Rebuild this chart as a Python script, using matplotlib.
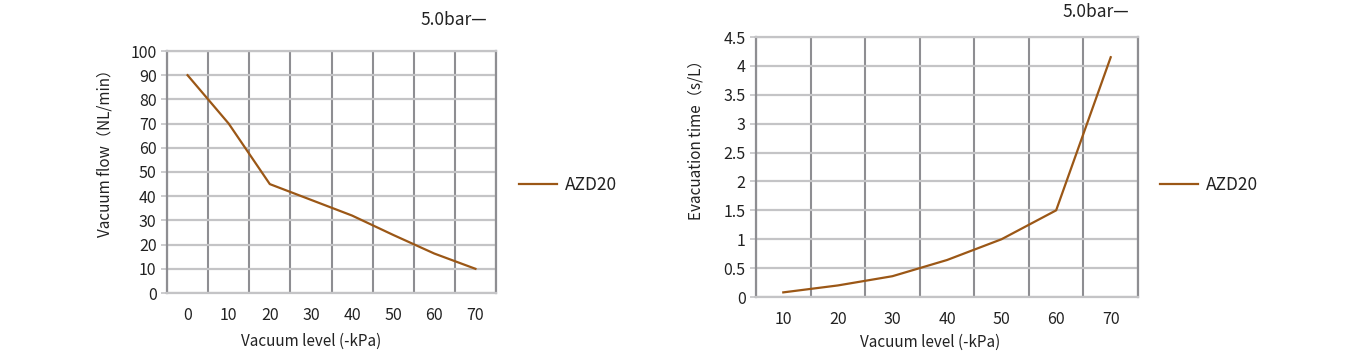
import matplotlib
matplotlib.use('Agg')
import matplotlib.pyplot as plt
from matplotlib.ticker import FixedLocator

plt.rcParams['font.family'] = ['Noto Sans CJK SC', 'DejaVu Sans']

# vacuum flow vs vacuum level
flow_levels = ['0', '10', '20', '30', '40', '50', '60', '70']
flow_values = [90, 70, 45, 38.5, 32, 24, 16.3, 10]

# evacuation time vs vacuum level
evac_levels = ['10', '20', '30', '40', '50', '60', '70']
evac_values = [0.08, 0.2, 0.36, 0.64, 1.0, 1.5, 4.15]

series_name = 'AZD20'
pressure_note = '5.0bar\u2014'

line_color = '#9b5716'
vgrid_color = '#8e8e92'
hgrid_color = '#c4c4c6'
text_color = '#222222'

fig = plt.figure(figsize=(13.53, 3.56), dpi=100)


def setup_axes(ax, labels, values, yticks, yticklabels, ylabel, ylabel_x, ylabel_y):
    n = len(labels)
    x = list(range(n))
    ax.plot(x, values, color=line_color, linewidth=1.6, label=series_name, zorder=3)
    ax.set_xlim(-0.5, n - 0.5)
    ax.set_ylim(yticks[0], yticks[-1])
    ax.set_xticks(x)
    ax.set_xticklabels(labels)
    ax.xaxis.set_minor_locator(FixedLocator([i - 0.5 for i in range(n + 1)]))
    ax.set_yticks(yticks)
    ax.set_yticklabels(yticklabels)
    ax.tick_params(axis='x', which='major', length=0, pad=10, labelsize=11.5, colors=text_color)
    ax.tick_params(axis='x', which='minor', length=0)
    ax.tick_params(axis='y', length=4, width=1.2, color=hgrid_color, pad=3.5,
                   labelsize=11.5, labelcolor=text_color)
    ax.grid(which='minor', axis='x', color=vgrid_color, linewidth=1.5)
    ax.grid(which='major', axis='y', color=hgrid_color, linewidth=1.6)
    for side in ['left', 'bottom', 'top', 'right']:
        ax.spines[side].set_color(hgrid_color)
        ax.spines[side].set_linewidth(1.6)
    ax.spines['left'].set_color(vgrid_color)
    ax.spines['right'].set_color(vgrid_color)
    ax.set_axisbelow(True)
    ax.set_ylabel(ylabel, fontsize=11, color=text_color)
    ax.yaxis.set_label_coords(ylabel_x, ylabel_y)
    ax.set_xlabel('Vacuum level (-kPa)', fontsize=11, color=text_color)


ax1 = fig.add_axes([167 / 1353, 1 - 293 / 356, 329 / 1353, 242 / 356])
setup_axes(ax1, flow_levels, flow_values,
           [0, 10, 20, 30, 40, 50, 60, 70, 80, 90, 100],
           ['0', '10', '20', '30', '40', '50', '60', '70', '80', '90', '100'],
           'Vacuum flow\uff08NL/min\uff09', -0.164, 0.595)
ax1.xaxis.set_label_coords(0.438, -0.165)
ax1.legend(loc='center left', bbox_to_anchor=(503 / 1353, 1 - 185 / 356),
           bbox_transform=fig.transFigure, frameon=False, fontsize=12.5,
           handlelength=2.2, handletextpad=0.45, labelcolor=text_color)

ax2 = fig.add_axes([756 / 1353, 1 - 297 / 356, 382 / 1353, 260 / 356])
setup_axes(ax2, evac_levels, evac_values,
           [0, 0.5, 1, 1.5, 2, 2.5, 3, 3.5, 4, 4.5],
           ['0', '0.5', '1', '1.5', '2', '2.5', '3', '3.5', '4', '4.5'],
           'Evacuation time\uff08s/L\uff09', -0.134, 0.62)
ax2.xaxis.set_label_coords(0.457, -0.14)
ax2.legend(loc='center left', bbox_to_anchor=(1144 / 1353, 1 - 185 / 356),
           bbox_transform=fig.transFigure, frameon=False, fontsize=12.5,
           handlelength=2.2, handletextpad=0.45, labelcolor=text_color)

fig.text(420 / 1353, 1 - 20 / 356, pressure_note, fontsize=12.5, color=text_color, va='center')
fig.text(1062 / 1353, 1 - 12 / 356, pressure_note, fontsize=12.5, color=text_color, va='center')

fig.savefig('out.png', dpi=100, facecolor='white')
